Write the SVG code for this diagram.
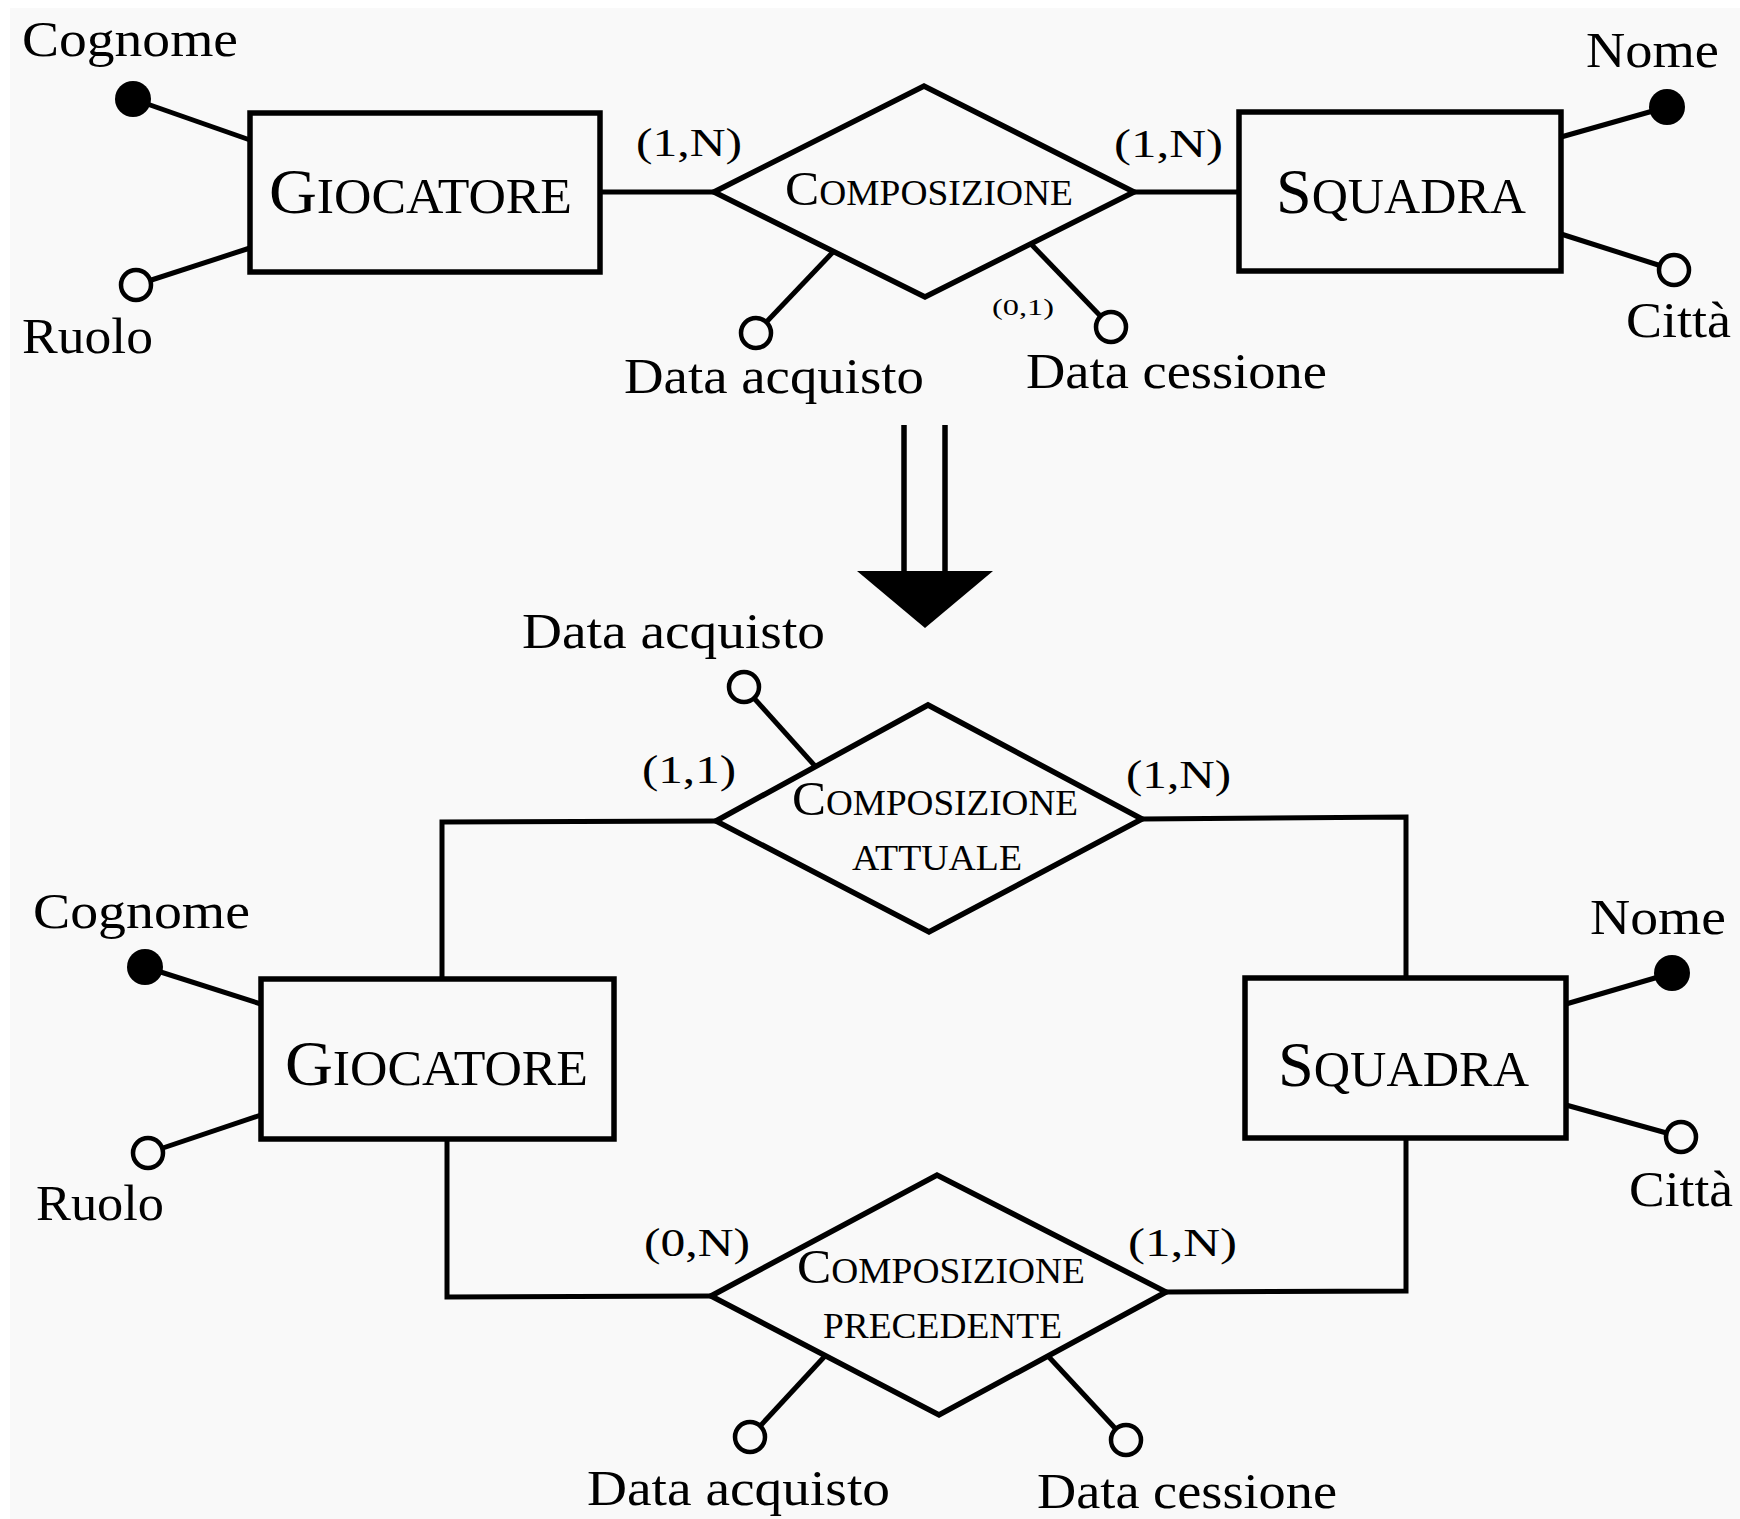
<svg xmlns="http://www.w3.org/2000/svg" width="1740" height="1519" viewBox="0 0 1740 1519">
  <style>
    .bg { fill: #f9f9f9; }
    .ent { fill: none; stroke: #000; stroke-width: 5.5; }
    .rel { fill: none; stroke: #000; stroke-width: 5.5; stroke-linejoin: miter; }
    .edge { fill: none; stroke: #000; stroke-width: 5; }
    .attr { stroke: #000; stroke-width: 5; }
    .key { fill: #000; stroke: none; }
    .opt { fill: #f9f9f9; stroke: #000; stroke-width: 4.5; }
    text { font-family: "Liberation Serif", "Times New Roman", serif; fill: #000; }
    .lbl { font-size: 50px; }
    .card { font-size: 41px; }
    .small { font-size: 24px; }
    .bigcap { font-size: 64px; }
    .sc { font-size: 50px; }
    .rcap { font-size: 48px; }
    .rsc { font-size: 35px; }
  </style>

  <!-- page -->
  <rect x="0" y="0" width="1740" height="1519" fill="#ffffff"/>
  <rect class="bg" x="10" y="8" width="1730" height="1511"/>

  <!-- ===================== initial schema ===================== -->
  <g id="connectors-top">
    <line class="edge" x1="600" y1="192" x2="714" y2="192"/>
    <line class="edge" x1="1134" y1="192" x2="1239" y2="192"/>
  </g>

  <g id="giocatore-1">
    <rect class="ent" x="250" y="113" width="350" height="159"/>
    <text x="269" y="213" textLength="303" lengthAdjust="spacingAndGlyphs"><tspan class="bigcap">G</tspan><tspan class="sc">IOCATORE</tspan></text>
    <g id="giocatore-1-cognome">
      <line class="attr" x1="133" y1="99" x2="250" y2="140"/>
      <circle class="key" cx="133" cy="99" r="18"/>
      <text class="lbl" x="22" y="56" textLength="216" lengthAdjust="spacingAndGlyphs">Cognome</text>
    </g>
    <g id="giocatore-1-ruolo">
      <line class="attr" x1="136" y1="285" x2="250" y2="248"/>
      <circle class="opt" cx="136" cy="285" r="15"/>
      <text class="lbl" x="22" y="353" textLength="131" lengthAdjust="spacingAndGlyphs">Ruolo</text>
    </g>
  </g>

  <g id="squadra-1">
    <rect class="ent" x="1239" y="112" width="322" height="159"/>
    <text x="1276" y="213" textLength="250" lengthAdjust="spacingAndGlyphs"><tspan class="bigcap">S</tspan><tspan class="sc">QUADRA</tspan></text>
    <g id="squadra-1-nome">
      <line class="attr" x1="1561" y1="137" x2="1667" y2="107"/>
      <circle class="key" cx="1667" cy="107" r="18"/>
      <text class="lbl" x="1586" y="67" textLength="133" lengthAdjust="spacingAndGlyphs">Nome</text>
    </g>
    <g id="squadra-1-citta">
      <line class="attr" x1="1561" y1="234" x2="1674" y2="270"/>
      <circle class="opt" cx="1674" cy="270" r="15"/>
      <text class="lbl" x="1626" y="337" textLength="105" lengthAdjust="spacingAndGlyphs">Città</text>
    </g>
  </g>

  <g id="composizione-1">
    <polygon class="rel" points="714,192 924,86 1134,192 925,297"/>
    <text x="785" y="205" textLength="288" lengthAdjust="spacingAndGlyphs"><tspan class="rcap">C</tspan><tspan class="rsc">OMPOSIZIONE</tspan></text>
    <text class="card" x="636" y="156" textLength="106" lengthAdjust="spacingAndGlyphs">(1,N)</text>
    <text class="card" x="1114" y="157" textLength="109" lengthAdjust="spacingAndGlyphs">(1,N)</text>
    <g id="composizione-1-data-acquisto">
      <line class="attr" x1="756" y1="333" x2="833" y2="252"/>
      <circle class="opt" cx="756" cy="333" r="15"/>
      <text class="lbl" x="624" y="393" textLength="300" lengthAdjust="spacingAndGlyphs">Data acquisto</text>
    </g>
    <g id="composizione-1-data-cessione">
      <line class="attr" x1="1031" y1="244" x2="1111" y2="327"/>
      <circle class="opt" cx="1111" cy="327" r="15"/>
      <text class="small" x="992" y="315" textLength="62" lengthAdjust="spacingAndGlyphs">(0,1)</text>
      <text class="lbl" x="1026" y="388" textLength="301" lengthAdjust="spacingAndGlyphs">Data cessione</text>
    </g>
  </g>

  <!-- transformation arrow -->
  <g id="transform-arrow">
    <line stroke="#000" stroke-width="5.5" x1="904" y1="425" x2="904" y2="574"/>
    <line stroke="#000" stroke-width="5.5" x1="945" y1="425" x2="945" y2="574"/>
    <polygon fill="#000" points="857,571 993,571 925,628"/>
  </g>

  <!-- ===================== restructured schema ===================== -->
  <g id="connectors-bottom">
    <polyline class="edge" points="716,821 442,822 442,979"/>
    <polyline class="edge" points="1142,819 1406,817 1406,978"/>
    <polyline class="edge" points="447,1139 447,1297 711,1296"/>
    <polyline class="edge" points="1406,1138 1406,1291 1166,1292"/>
  </g>

  <g id="giocatore-2">
    <rect class="ent" x="261" y="979" width="353" height="160"/>
    <text x="285" y="1085" textLength="303" lengthAdjust="spacingAndGlyphs"><tspan class="bigcap">G</tspan><tspan class="sc">IOCATORE</tspan></text>
    <g id="giocatore-2-cognome">
      <line class="attr" x1="145" y1="967" x2="261" y2="1004"/>
      <circle class="key" cx="145" cy="967" r="18"/>
      <text class="lbl" x="33" y="928" textLength="217" lengthAdjust="spacingAndGlyphs">Cognome</text>
    </g>
    <g id="giocatore-2-ruolo">
      <line class="attr" x1="148" y1="1153" x2="261" y2="1115"/>
      <circle class="opt" cx="148" cy="1153" r="15"/>
      <text class="lbl" x="36" y="1220" textLength="128" lengthAdjust="spacingAndGlyphs">Ruolo</text>
    </g>
  </g>

  <g id="squadra-2">
    <rect class="ent" x="1245" y="978" width="321" height="160"/>
    <text x="1278" y="1086" textLength="251" lengthAdjust="spacingAndGlyphs"><tspan class="bigcap">S</tspan><tspan class="sc">QUADRA</tspan></text>
    <g id="squadra-2-nome">
      <line class="attr" x1="1566" y1="1004" x2="1672" y2="973"/>
      <circle class="key" cx="1672" cy="973" r="18"/>
      <text class="lbl" x="1590" y="934" textLength="136" lengthAdjust="spacingAndGlyphs">Nome</text>
    </g>
    <g id="squadra-2-citta">
      <line class="attr" x1="1566" y1="1105" x2="1681" y2="1137"/>
      <circle class="opt" cx="1681" cy="1137" r="15"/>
      <text class="lbl" x="1629" y="1206" textLength="104" lengthAdjust="spacingAndGlyphs">Città</text>
    </g>
  </g>

  <g id="composizione-attuale">
    <polygon class="rel" points="716,821 928,705 1142,819 929,932"/>
    <text x="792" y="815" textLength="286" lengthAdjust="spacingAndGlyphs"><tspan class="rcap">C</tspan><tspan class="rsc">OMPOSIZIONE</tspan></text>
    <text class="rsc" x="852" y="870" textLength="170" lengthAdjust="spacingAndGlyphs">ATTUALE</text>
    <text class="card" x="642" y="783" textLength="94" lengthAdjust="spacingAndGlyphs">(1,1)</text>
    <text class="card" x="1126" y="788" textLength="105" lengthAdjust="spacingAndGlyphs">(1,N)</text>
    <g id="composizione-attuale-data-acquisto">
      <line class="attr" x1="744" y1="687" x2="815" y2="766"/>
      <circle class="opt" cx="744" cy="687" r="15"/>
      <text class="lbl" x="522" y="648" textLength="303" lengthAdjust="spacingAndGlyphs">Data acquisto</text>
    </g>
  </g>

  <g id="composizione-precedente">
    <polygon class="rel" points="711,1296 937,1175 1166,1292 939,1415"/>
    <text x="797" y="1283" textLength="288" lengthAdjust="spacingAndGlyphs"><tspan class="rcap">C</tspan><tspan class="rsc">OMPOSIZIONE</tspan></text>
    <text class="rsc" x="823" y="1338" textLength="239" lengthAdjust="spacingAndGlyphs">PRECEDENTE</text>
    <text class="card" x="644" y="1256" textLength="106" lengthAdjust="spacingAndGlyphs">(0,N)</text>
    <text class="card" x="1128" y="1256" textLength="109" lengthAdjust="spacingAndGlyphs">(1,N)</text>
    <g id="composizione-precedente-data-acquisto">
      <line class="attr" x1="825" y1="1356" x2="750" y2="1437"/>
      <circle class="opt" cx="750" cy="1437" r="15"/>
      <text class="lbl" x="587" y="1505" textLength="303" lengthAdjust="spacingAndGlyphs">Data acquisto</text>
    </g>
    <g id="composizione-precedente-data-cessione">
      <line class="attr" x1="1048" y1="1356" x2="1126" y2="1440"/>
      <circle class="opt" cx="1126" cy="1440" r="15"/>
      <text class="lbl" x="1037" y="1508" textLength="300" lengthAdjust="spacingAndGlyphs">Data cessione</text>
    </g>
  </g>
</svg>
